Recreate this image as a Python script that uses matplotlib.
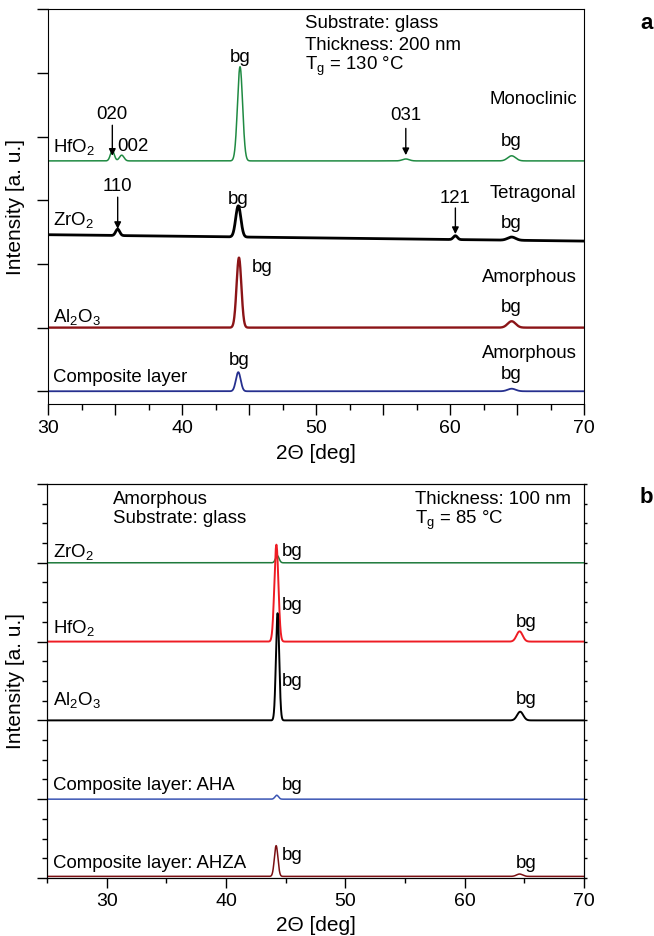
import matplotlib
matplotlib.use('Agg')
import matplotlib.pyplot as plt
import numpy as np
from matplotlib.ticker import MultipleLocator, FuncFormatter

plt.rcParams['font.family'] = ['Liberation Sans', 'DejaVu Sans']
plt.rcParams['mathtext.fontset'] = 'custom'
plt.rcParams['mathtext.rm'] = 'Liberation Sans'
plt.rcParams['mathtext.it'] = 'Liberation Sans:italic'

# ---- panel a: 200 nm, Tg = 130 C (peak centre, height, FWHM in deg) ----
a_names = ['HfO$_\\mathregular{2}$', 'ZrO$_\\mathregular{2}$',
           'Al$_\\mathregular{2}$O$_\\mathregular{3}$', 'Composite layer']
a_colors = ['#1f8a42', '#000000', '#8b1417', '#26308f']
a_widths = [1.1, 2.0, 1.7, 1.3]
a_base_start = [3.62, 2.46, 1.0, 0.0]
a_base_end = [3.62, 2.36, 1.0, 0.0]

a_hfo2_pos = [34.8, 35.5, 44.33, 56.7, 64.6]
a_hfo2_h = [0.16, 0.09, 1.48, 0.03, 0.08]
a_hfo2_w = [0.35, 0.4, 0.45, 0.6, 0.7]

a_zro2_pos = [35.2, 44.2, 60.4, 64.6]
a_zro2_h = [0.1, 0.49, 0.06, 0.05]
a_zro2_w = [0.35, 0.45, 0.35, 0.7]

a_al2o3_pos = [44.25, 64.6]
a_al2o3_h = [1.1, 0.1]
a_al2o3_w = [0.42, 0.7]

a_comp_pos = [44.2, 64.6]
a_comp_h = [0.3, 0.04]
a_comp_w = [0.42, 0.7]

# ---- panel b: 100 nm, Tg = 85 C ----
b_names = ['ZrO$_\\mathregular{2}$', 'HfO$_\\mathregular{2}$',
           'Al$_\\mathregular{2}$O$_\\mathregular{3}$',
           'Composite layer: AHA', 'Composite layer: AHZA']
b_colors = ['#1f7a3c', '#ee1c24', '#000000', '#3a55b4', '#7a0f12']
b_widths = [1.1, 1.4, 1.4, 1.1, 1.1]
b_base = [4.0, 3.0, 2.0, 1.0, 0.02]

b_zro2_pos = [44.3]
b_zro2_h = [0.09]
b_zro2_w = [0.35]

b_hfo2_pos = [44.22, 64.6]
b_hfo2_h = [1.23, 0.13]
b_hfo2_w = [0.4, 0.6]

b_al2o3_pos = [44.32, 64.65]
b_al2o3_h = [1.36, 0.11]
b_al2o3_w = [0.32, 0.6]

b_aha_pos = [44.25]
b_aha_h = [0.05]
b_aha_w = [0.35]

b_ahza_pos = [44.2, 64.6]
b_ahza_h = [0.39, 0.03]
b_ahza_w = [0.35, 0.6]


def profile(x, pos, h, w):
    y = np.zeros_like(x)
    for p, hh, ww in zip(pos, h, w):
        s = ww / 2.3548
        y += hh * np.exp(-0.5 * ((x - p) / s) ** 2)
    return y


fig = plt.figure(figsize=(6.54, 9.36), dpi=100)
ax1 = fig.add_axes([0.0734, 0.5684, 0.8196, 0.4215])
ax2 = fig.add_axes([0.0719, 0.0620, 0.8211, 0.4209])

FS_T = 13.4
FS_TICK = 14
FS_LAB = 15

# ---------------- panel a ----------------
xa = np.linspace(30, 70, 4001)
a_peaks = [(a_hfo2_pos, a_hfo2_h, a_hfo2_w), (a_zro2_pos, a_zro2_h, a_zro2_w),
           (a_al2o3_pos, a_al2o3_h, a_al2o3_w), (a_comp_pos, a_comp_h, a_comp_w)]
for i, (pos, h, w) in enumerate(a_peaks):
    base = np.interp(xa, [30, 70], [a_base_start[i], a_base_end[i]])
    ax1.plot(xa, base + profile(xa, pos, h, w), color=a_colors[i], lw=a_widths[i])

ax1.set_xlim(30, 70)
ax1.set_ylim(-0.2, 6)
ax1.xaxis.set_major_locator(MultipleLocator(5))
ax1.xaxis.set_minor_locator(MultipleLocator(2.5))
ax1.xaxis.set_major_formatter(FuncFormatter(lambda v, p: f'{v:.0f}' if v % 10 == 0 else ''))
ax1.yaxis.set_major_locator(MultipleLocator(1))
ax1.set_yticklabels([])
ax1.tick_params(axis='both', which='major', direction='out', length=8, width=1,
                labelsize=FS_TICK, top=False, right=False)
ax1.tick_params(axis='x', which='minor', direction='out', length=4, width=1)
ax1.set_xlabel('2Θ [deg]', fontsize=FS_LAB, labelpad=5)
ax1.set_ylabel('Intensity [a. u.]', fontsize=FS_LAB, labelpad=5)

kw = dict(fontsize=FS_T, va='center')
ax1.text(49.2, 5.78, 'Substrate: glass', ha='left', **kw)
ax1.text(49.2, 5.44, 'Thickness: 200 nm', ha='left', **kw)
ax1.text(49.2, 5.10, 'T$_\\mathregular{g}$ = 130 °C', ha='left', **kw)

ax1.text(30.4, 3.84, a_names[0], ha='left', **kw)
ax1.text(30.4, 2.69, a_names[1], ha='left', **kw)
ax1.text(30.4, 1.16, a_names[2], ha='left', **kw)
ax1.text(30.4, 0.22, a_names[3], ha='left', **kw)

ax1.text(44.33, 5.25, 'bg', ha='center', **kw)
ax1.text(44.2, 3.02, 'bg', ha='center', **kw)
ax1.text(45.2, 1.95, 'bg', ha='left', **kw)
ax1.text(44.3, 0.49, 'bg', ha='center', **kw)
for yy in [3.92, 2.64, 1.32, 0.27]:
    ax1.text(64.55, yy, 'bg', ha='center', **kw)

ax1.text(66.2, 4.59, 'Monoclinic', ha='center', **kw)
ax1.text(66.2, 3.11, 'Tetragonal', ha='center', **kw)
ax1.text(65.9, 1.78, 'Amorphous', ha='center', **kw)
ax1.text(65.9, 0.60, 'Amorphous', ha='center', **kw)

arrows = [('020', 34.8, 4.35, 4.18, 3.70),
          ('031', 56.7, 4.34, 4.13, 3.71),
          ('110', 35.2, 3.21, 3.05, 2.55),
          ('121', 60.4, 3.03, 2.88, 2.47)]
for lab, xx, ty, y0, y1 in arrows:
    ax1.text(xx, ty, lab, ha='center', **kw)
    ax1.annotate('', xy=(xx, y1), xytext=(xx, y0),
                 arrowprops=dict(arrowstyle='-|>', color='black', lw=1,
                                 mutation_scale=10, shrinkA=0, shrinkB=0))
ax1.text(36.35, 3.84, '002', ha='center', **kw)

# ---------------- panel b ----------------
xb = np.linspace(25, 70, 4501)
b_peaks = [(b_zro2_pos, b_zro2_h, b_zro2_w), (b_hfo2_pos, b_hfo2_h, b_hfo2_w),
           (b_al2o3_pos, b_al2o3_h, b_al2o3_w), (b_aha_pos, b_aha_h, b_aha_w),
           (b_ahza_pos, b_ahza_h, b_ahza_w)]
for i, (pos, h, w) in enumerate(b_peaks):
    ax2.plot(xb, b_base[i] + profile(xb, pos, h, w), color=b_colors[i], lw=b_widths[i])

ax2.set_xlim(25, 70)
ax2.set_ylim(0, 5)
ax2.xaxis.set_major_locator(MultipleLocator(10))
ax2.xaxis.set_minor_locator(MultipleLocator(5))
ax2.yaxis.set_major_locator(MultipleLocator(1))
ax2.yaxis.set_minor_locator(MultipleLocator(0.25))
ax2.set_yticklabels([])
ax2.tick_params(axis='both', which='major', direction='out', length=7, width=1,
                labelsize=FS_TICK, top=False, right=False)
ax2.tick_params(axis='both', which='minor', direction='out', length=3.5, width=1,
                top=False, right=False)
ax2.set_xlabel('2Θ [deg]', fontsize=FS_LAB, labelpad=5)
ax2.set_ylabel('Intensity [a. u.]', fontsize=FS_LAB, labelpad=5)

# short ticks on the right spine
ax2r = ax2.twinx()
ax2r.set_ylim(0, 5)
ax2r.yaxis.set_major_locator(MultipleLocator(1))
ax2r.yaxis.set_minor_locator(MultipleLocator(0.25))
ax2r.tick_params(axis='y', which='both', direction='out', length=2.5, width=1,
                 labelright=False)

ax2.text(30.5, 4.80, 'Amorphous', ha='left', **kw)
ax2.text(30.5, 4.56, 'Substrate: glass', ha='left', **kw)
ax2.text(55.85, 4.80, 'Thickness: 100 nm', ha='left', **kw)
ax2.text(55.85, 4.54, 'T$_\\mathregular{g}$ = 85 °C', ha='left', **kw)

ax2.text(25.5, 4.14, b_names[0], ha='left', **kw)
ax2.text(25.5, 3.17, b_names[1], ha='left', **kw)
ax2.text(25.5, 2.26, b_names[2], ha='left', **kw)
ax2.text(25.5, 1.17, b_names[3], ha='left', **kw)
ax2.text(25.5, 0.18, b_names[4], ha='left', **kw)

for yy in [4.14, 3.46, 2.49, 1.17, 0.29]:
    ax2.text(44.7, yy, 'bg', ha='left', **kw)
for yy in [3.24, 2.26, 0.18]:
    ax2.text(65.15, yy, 'bg', ha='center', **kw)

fig.text(0.989, 0.975, 'a', fontsize=16, fontweight='bold', ha='center', va='center')
fig.text(0.989, 0.468, 'b', fontsize=16, fontweight='bold', ha='center', va='center')

fig.savefig('out.png', dpi=100, facecolor='white')
